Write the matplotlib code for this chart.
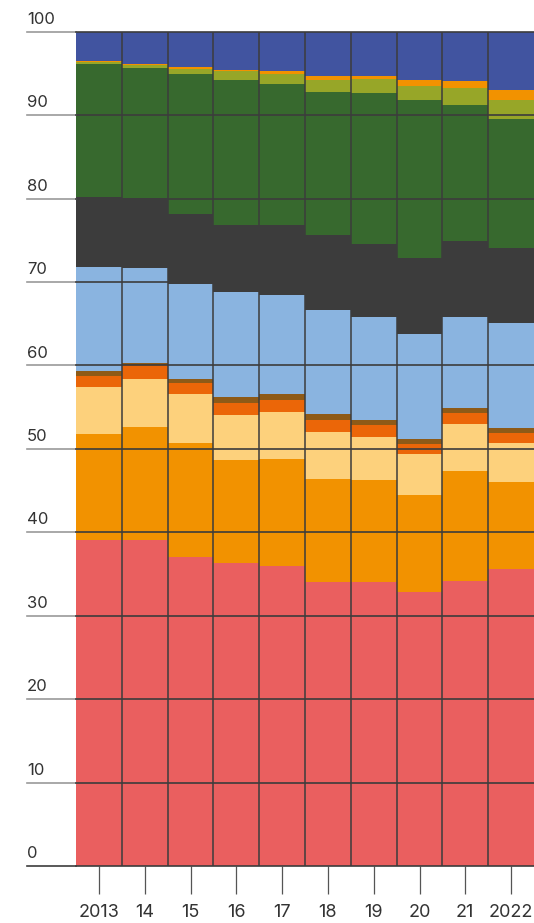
import matplotlib
matplotlib.use("Agg")
import numpy as np
import matplotlib.pyplot as plt

plt.rcParams['font.family'] = ['Inter', 'DejaVu Sans']

# ================= data (share, %) =================
years = ["2013", "14", "15", "16", "17", "18", "19", "20", "21", "2022"]

red = [39.1, 39.1, 37.0, 36.3, 36.0, 34.0, 34.0, 32.8, 34.2, 35.6]
orange = [12.7, 13.5, 13.7, 12.4, 12.8, 12.4, 12.3, 11.7, 13.1, 10.4]
light_yellow = [5.6, 5.8, 5.9, 5.4, 5.6, 5.6, 5.1, 4.9, 5.7, 4.7]
dark_orange = [1.3, 1.6, 1.3, 1.4, 1.5, 1.5, 1.5, 1.2, 1.3, 1.2]
brown = [0.6, 0.3, 0.5, 0.7, 0.7, 0.7, 0.6, 0.6, 0.6, 0.6]
light_blue = [12.5, 11.4, 11.4, 12.6, 11.8, 12.4, 12.3, 12.6, 10.9, 12.6]
dark_gray = [8.4, 8.4, 8.4, 8.0, 8.4, 9.0, 8.8, 9.1, 9.1, 9.0]
green = [15.9, 15.5, 16.7, 17.4, 16.9, 17.2, 18.0, 18.9, 16.3, 15.4]
olive = [0.3, 0.4, 0.6, 1.1, 1.2, 1.4, 1.7, 1.7, 2.1, 2.3]
orange_top = [0.1, 0.1, 0.3, 0.1, 0.4, 0.5, 0.4, 0.7, 0.8, 1.2]
blue = [3.5, 3.9, 4.2, 4.6, 4.7, 5.3, 5.3, 5.8, 5.9, 7.0]

layers = [
    (red, '#EA5F5F'),
    (orange, '#F29200'),
    (light_yellow, '#FDD17C'),
    (dark_orange, '#EB6608'),
    (brown, '#8E5A17'),
    (light_blue, '#8AB4E0'),
    (dark_gray, '#3C3C3C'),
    (green, '#37692E'),
    (olive, '#97A628'),
    (orange_top, '#F29200'),
    (blue, '#4154A0'),
]

LINE_DARK = '#3C3C3C'
LINE_LIGHT = '#9A9A9A'
TEXT_COLOR = '#333333'

# ================= figure =================
fig = plt.figure(figsize=(5.34, 9.23), dpi=100)
ax = fig.add_axes([27 / 534, 1 - 866 / 923, 1 - 27 / 534, (866 - 31.7) / 923])

x = np.arange(len(years))
bottom = np.zeros(len(years))
for vals, color in layers:
    ax.bar(x, vals, bottom=bottom, width=1.0, color=color, linewidth=0, zorder=2)
    bottom += np.array(vals)

x_left = -0.5 - 49 / 45.8
ax.set_xlim(x_left, len(years) - 0.5)
ax.set_ylim(0, 100)

# separators between bars
for b in np.arange(0.5, len(years) - 0.5, 1):
    ax.plot([b, b], [0, 100], color=LINE_DARK, lw=1.1, zorder=3)

# gridlines: light over white, dark over bars
for v in range(0, 101, 10):
    c = LINE_DARK if v == 0 else LINE_LIGHT
    ax.plot([x_left, -0.5], [v, v], color=c, lw=1.2, zorder=3, clip_on=False)
    ax.plot([-0.5, len(years) - 0.5], [v, v], color=LINE_DARK, lw=1.2, zorder=3, clip_on=False)
    ax.annotate(str(v), xy=(0, v), xycoords=('axes fraction', 'data'),
                xytext=(0, 3.5), textcoords='offset points',
                ha='left', va='bottom', fontsize=12, color=TEXT_COLOR)

for s in ax.spines.values():
    s.set_visible(False)
ax.set_yticks([])
ax.set_xticks(x)
ax.set_xticklabels(years, fontsize=13, color=TEXT_COLOR)
ax.tick_params(axis='x', length=20, width=0.9, color='#555555', pad=7.5)
ax.patch.set_alpha(0)

fig.savefig("out.png", dpi=100)
